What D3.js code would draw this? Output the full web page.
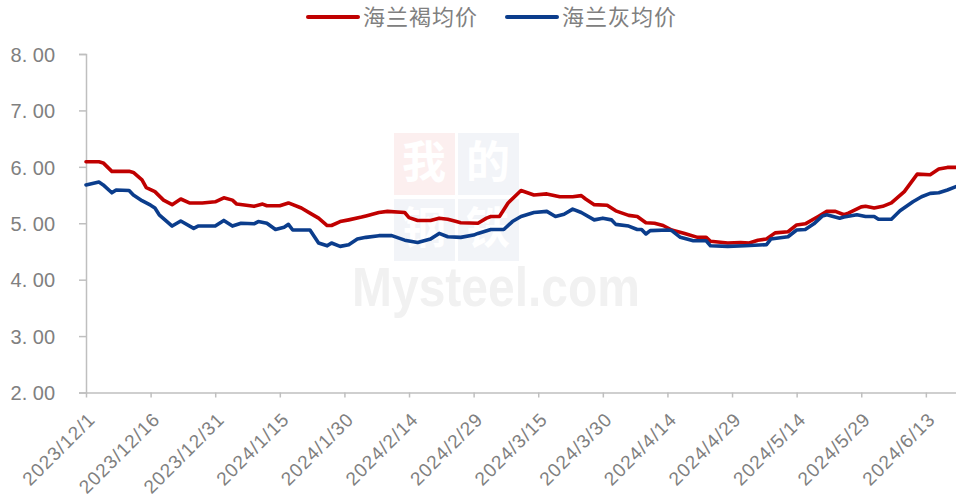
<!DOCTYPE html>
<html>
<head>
<meta charset="utf-8">
<script src="https://cdn.jsdelivr.net/npm/d3@7"></script>
<style>
  html, body { margin: 0; padding: 0; background: #fff; }
  svg { display: block; }
</style>
</head>
<body>
<svg id="chart" width="956" height="502"></svg>
<script>
// ---- data ----
const startDate = "2023-12-01";
const endDate = "2024-06-20";
const seriesNames = ["海兰褐均价", "海兰灰均价"];
const seriesColors = ["#C00000", "#0B3D8C"];
const xTickLabels = ["2023/12/1","2023/12/16","2023/12/31","2024/1/15","2024/1/30","2024/2/14","2024/2/29",
  "2024/3/15","2024/3/30","2024/4/14","2024/4/29","2024/5/14","2024/5/29","2024/6/13"];
const yTicks = [2, 3, 4, 5, 6, 7, 8];

// days since 2023/12/1 and price
const brownDays = [0,3,4,6,10,11,13,14,16,18,20,22,24,27,30,32,34,35,39,41,42,45,47,50,52,54,56,57,59,61,64,65,68,70,74,75,77,80,82,84,86,87,91,93,94,96,98,101,
  104,107,110,113,115,116,118,121,123,126,128,130,132,134,136,139,142,144,145,149,152,154,156,158,160,163,165,167,170,172,174,176,177,180,181,183,185,187,190,193,196,198,200,202];
const brownVals = [6.09,6.09,6.07,5.92,5.92,5.90,5.77,5.63,5.56,5.41,5.33,5.43,5.36,5.36,5.38,5.45,5.41,5.34,5.30,5.34,5.31,5.31,5.36,5.27,5.18,5.09,4.96,4.96,5.03,5.06,5.11,5.13,5.19,5.21,5.19,5.10,5.05,5.05,5.09,5.07,5.03,5.01,5.00,5.09,5.12,5.12,5.36,5.58,
  5.50,5.52,5.47,5.47,5.49,5.43,5.33,5.32,5.22,5.14,5.12,5.01,5.00,4.96,4.88,4.82,4.75,4.75,4.68,4.65,4.66,4.65,4.70,4.72,4.83,4.85,4.97,4.99,5.12,5.21,5.21,5.15,5.18,5.29,5.30,5.27,5.30,5.36,5.56,5.87,5.86,5.96,5.99,5.99];

const grayDays = [0,3,4,6,7,10,11,13,15,16,17,20,22,25,26,30,32,34,36,39,40,42,44,46,47,48,52,54,56,57,59,61,63,65,68,71,74,77,80,82,84,87,90,91,94,97,99,101,
  104,107,109,111,113,115,118,120,122,123,126,128,129,130,131,135,136,138,141,144,145,149,153,158,159,163,165,167,169,171,172,175,176,179,181,183,184,187,189,192,194,196,198,200,202];
const grayVals = [5.68,5.73,5.68,5.54,5.59,5.58,5.50,5.40,5.32,5.27,5.15,4.95,5.04,4.91,4.95,4.95,5.05,4.95,5.00,4.99,5.03,5.00,4.89,4.93,4.98,4.88,4.88,4.65,4.60,4.65,4.59,4.62,4.72,4.75,4.78,4.78,4.70,4.66,4.72,4.82,4.76,4.75,4.79,4.82,4.89,4.89,5.03,5.12,
  5.19,5.21,5.12,5.16,5.25,5.19,5.06,5.09,5.06,4.98,4.95,4.89,4.89,4.81,4.87,4.88,4.87,4.75,4.69,4.69,4.60,4.59,4.60,4.62,4.72,4.76,4.88,4.89,4.99,5.13,5.15,5.09,5.11,5.15,5.12,5.12,5.07,5.07,5.22,5.38,5.47,5.53,5.54,5.59,5.65];

// ---- chart ----
const svg = d3.select("#chart");
const font = "'Liberation Sans', Arial, sans-serif";
const cjkFont = "'Noto Sans CJK SC', 'Noto Sans', sans-serif";
const gray = "#808080";
const axisColor = "#BFBFBF";

const parse = d3.timeParse("%Y-%m-%d");
const t0 = parse(startDate), t1 = parse(endDate);
const x = d3.scaleTime().domain([t0, t1]).range([86, 956]);
const y = d3.scaleLinear().domain([2, 8]).range([392.5, 54]);

// watermark
const wm = svg.append("g").attr("class", "watermark");
const wmCells = [
  {c: "我", col: 0, row: 0, fill: "#FCEFEF"},
  {c: "的", col: 1, row: 0, fill: "#F2F4F8"},
  {c: "钢", col: 0, row: 1, fill: "#F2F4F8"},
  {c: "铁", col: 1, row: 1, fill: "#F2F4F8"}
];
wmCells.forEach(d => {
  wm.append("rect").attr("x", 394 + d.col * 64).attr("y", 133 + d.row * 66)
    .attr("width", 61).attr("height", 62).attr("fill", d.fill);
  wm.append("text").attr("x", 424 + d.col * 64).attr("y", 178 + d.row * 66)
    .attr("text-anchor", "middle").attr("font-family", cjkFont).attr("font-size", 44)
    .attr("font-weight", "bold").attr("fill", "#ffffff").text(d.c);
});
wm.append("text").attr("x", 352).attr("y", 306).attr("font-family", font)
  .attr("font-size", 56).attr("font-weight", "bold").attr("fill", "#F1F1F1")
  .attr("textLength", 288).attr("lengthAdjust", "spacingAndGlyphs").text("Mysteel.com");

// y axis
const yAxis = svg.append("g").attr("transform", "translate(86,0)")
  .call(d3.axisLeft(y).tickValues(yTicks).tickSize(7).tickPadding(24)
    .tickFormat(d => d3.format(".2f")(d).replace(".", ". ")));
yAxis.select(".domain").attr("stroke", axisColor).attr("stroke-width", 1.5);
yAxis.selectAll(".tick line").attr("stroke", axisColor).attr("stroke-width", 1.5);
yAxis.selectAll(".tick text").attr("fill", gray).attr("font-family", font)
  .attr("font-size", 20).attr("dy", "0.36em").attr("x", -31).style("white-space", "pre");

// x axis
const tickDates = xTickLabels.map(s => d3.timeParse("%Y/%m/%d")(s));
const xAxis = svg.append("g").attr("transform", "translate(0,392.5)")
  .call(d3.axisBottom(x).tickValues(tickDates).tickSize(5).tickSizeOuter(0)
    .tickFormat((d, i) => xTickLabels[i]));
xAxis.select(".domain").attr("stroke", axisColor).attr("stroke-width", 1.5);
xAxis.selectAll(".tick line").attr("stroke", axisColor).attr("stroke-width", 1.5);
xAxis.selectAll(".tick text").attr("fill", gray).attr("font-family", font)
  .attr("font-size", 19).attr("letter-spacing", 1)
  .attr("text-anchor", "end").attr("dy", null).attr("y", 0)
  .attr("transform", "translate(10,28) rotate(-45)");

// lines
const line = d3.line().x(d => x(d3.timeDay.offset(t0, d[0]))).y(d => y(d[1]));
const seriesData = [
  d3.zip(brownDays, brownVals),
  d3.zip(grayDays, grayVals)
];
seriesData.forEach((data, i) => {
  svg.append("path").datum(data).attr("d", line)
    .attr("fill", "none").attr("stroke", seriesColors[i]).attr("stroke-width", 3.6)
    .attr("stroke-linejoin", "round").attr("stroke-linecap", "round");
});

// legend
const legendX = [308, 507];
seriesNames.forEach((name, i) => {
  const g = svg.append("g").attr("transform", `translate(${legendX[i]},17)`);
  g.append("line").attr("x1", 0).attr("x2", 50).attr("y1", 0).attr("y2", 0)
    .attr("stroke", seriesColors[i]).attr("stroke-width", 4).attr("stroke-linecap", "round");
  g.append("text").attr("x", 55).attr("y", 0).attr("dy", "0.36em")
    .attr("font-family", cjkFont).attr("font-size", 22).attr("letter-spacing", 1)
    .attr("fill", gray).text(name);
});
</script>
</body>
</html>
